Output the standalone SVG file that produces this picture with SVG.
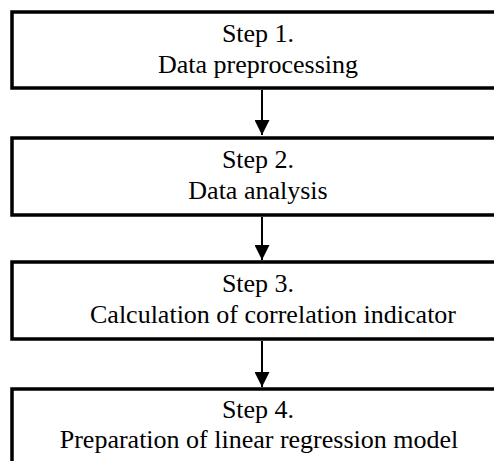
<svg xmlns="http://www.w3.org/2000/svg" width="494" height="461" viewBox="0 0 494 461">
<style>
.box{fill:#fff;stroke:#000;stroke-width:3.5}
.t{font-family:"Liberation Serif","Times New Roman",serif;font-size:26px;fill:#000;text-anchor:middle}
.c{stroke:#000;stroke-width:2;fill:none}
</style>
<defs>
<marker id="ah" markerWidth="15" markerHeight="15" viewBox="0 0 15 15" refX="15" refY="7.5" orient="auto" markerUnits="userSpaceOnUse">
<path d="M0,0 L15,7.5 L0,15 Z" fill="#000"/>
</marker>
</defs>
<rect width="494" height="461" fill="#fff"/>
<g id="connectors">
<line class="c" x1="262" y1="90" x2="262" y2="135" marker-end="url(#ah)"/>
<line class="c" x1="262" y1="217" x2="262" y2="260" marker-end="url(#ah)"/>
<line class="c" x1="262" y1="341" x2="262" y2="387" marker-end="url(#ah)"/>
</g>
<g id="step1">
<rect class="box" x="12" y="12" width="520" height="76"/>
<text class="t" x="258" y="42">Step 1.</text>
<text class="t" x="258" y="73">Data preprocessing</text>
</g>
<g id="step2">
<rect class="box" x="12" y="138" width="520" height="77"/>
<text class="t" x="258" y="168">Step 2.</text>
<text class="t" x="258" y="199">Data analysis</text>
</g>
<g id="step3">
<rect class="box" x="12" y="262" width="520" height="77"/>
<text class="t" x="258" y="292">Step 3.</text>
<text class="t" x="90" y="323" style="text-anchor:start">Calculation of correlation indicator</text>
</g>
<g id="step4">
<rect class="box" x="12" y="389" width="520" height="100"/>
<text class="t" x="258" y="418">Step 4.</text>
<text class="t" x="259" y="448">Preparation of linear regression model</text>
</g>
</svg>
